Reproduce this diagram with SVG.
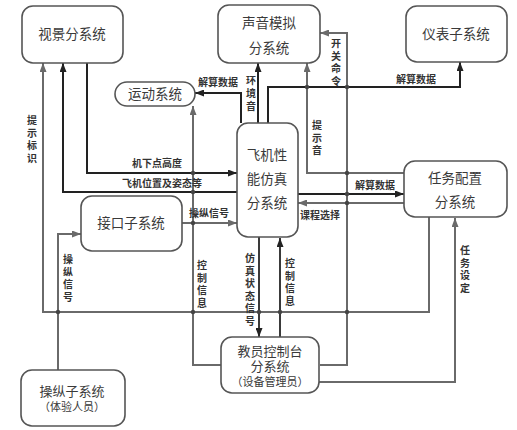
<svg xmlns="http://www.w3.org/2000/svg" width="517" height="430" viewBox="0 0 517 430">
<style>
.node rect{fill:#fff;stroke:#555;stroke-width:1.6}
.nt{font-family:"Liberation Sans","Noto Sans CJK SC",sans-serif;font-size:13.5px;fill:#3a3a3a;text-anchor:middle;dominant-baseline:central}
.nm{font-size:13px}
.ns{font-size:11px}
.lb{font-family:"Liberation Sans","Noto Sans CJK SC",sans-serif;font-size:10px;font-weight:bold;fill:#333;text-anchor:middle;dominant-baseline:central}
.k{fill:none;stroke:#222;stroke-width:2}
.d{fill:none;stroke:#3a3a3a;stroke-width:2}
.g{fill:none;stroke:#6a6a6a;stroke-width:2}
.ak{marker-end:url(#mk)}
.ag{marker-end:url(#mg)}
.dot{fill:#444}
</style>
<defs>
<marker id="mk" viewBox="0 0 9 7" refX="9" refY="3.5" markerWidth="9" markerHeight="7" markerUnits="userSpaceOnUse" orient="auto"><path d="M0,0 L9,3.5 L0,7 z" fill="#222"/></marker>
<marker id="mg" viewBox="0 0 9 7" refX="9" refY="3.5" markerWidth="9" markerHeight="7" markerUnits="userSpaceOnUse" orient="auto"><path d="M0,0 L9,3.5 L0,7 z" fill="#6a6a6a"/></marker>
</defs>
<rect width="517" height="430" fill="#fff"/>
<g id="connectors">
<path class="k ak" d="M87,63 V173 H237"/>
<path class="k ak" d="M237,192 H63 V63"/>
<path class="k ak" d="M241,123 V93 H195"/>
<path class="k ak" d="M258,123 V63"/>
<path class="k ak" d="M268,123 V87 H460 V62"/>
<path class="k ak" d="M298,194 H404"/>
<path class="d ak" d="M259,237 V337"/>
<path class="d ak" d="M280,337 V238"/>
<path class="g ag" d="M429,217 V312 H43 V63"/>
<path class="g ag" d="M58,370 V234 H81"/>
<path class="g ag" d="M182,223 H237"/>
<path class="g ag" d="M221,365 H193 V106"/>
<path class="g ag" d="M405,173 H307 V63"/>
<path class="g ag" d="M320,365 H347 V33 H320"/>
<path class="g ag" d="M404,203 H298"/>
<path class="g ag" d="M319,382 H455 V218"/>
<g>
<circle class="dot" cx="58" cy="312" r="2.2"/>
<circle class="dot" cx="193" cy="312" r="2.2"/>
<circle class="dot" cx="259" cy="312" r="2.2"/>
<circle class="dot" cx="280" cy="312" r="2.2"/>
<circle class="dot" cx="347" cy="312" r="2.2"/>
<circle class="dot" cx="193" cy="173" r="2.2"/>
<circle class="dot" cx="193" cy="192" r="2.2"/>
<circle class="dot" cx="193" cy="223" r="2.2"/>
<circle class="dot" cx="307" cy="87" r="2.2"/>
<circle class="dot" cx="347" cy="87" r="2.2"/>
<circle class="dot" cx="347" cy="173" r="2.2"/>
<circle class="dot" cx="347" cy="194" r="2.2"/>
<circle class="dot" cx="347" cy="203" r="2.2"/>
</g>
<g>
<text class="lb" x="157" y="163">机下点高度</text>
<text class="lb" x="162" y="183">飞机位置及姿态等</text>
<text class="lb" x="209" y="213">操纵信号</text>
<text class="lb" x="218" y="82">解算数据</text>
<text class="lb" x="416" y="79">解算数据</text>
<text class="lb" x="375" y="185">解算数据</text>
<text class="lb" x="320" y="215">课程选择</text>
<text class="lb"><tspan x="32" y="120">提</tspan><tspan x="32" y="132.5">示</tspan><tspan x="32" y="145">标</tspan><tspan x="32" y="157.5">识</tspan></text>
<text class="lb"><tspan x="336" y="43">开</tspan><tspan x="336" y="55.5">关</tspan><tspan x="336" y="68">命</tspan><tspan x="336" y="80.5">令</tspan></text>
<text class="lb"><tspan x="251" y="80">环</tspan><tspan x="251" y="93">境</tspan><tspan x="251" y="106">音</tspan></text>
<text class="lb"><tspan x="317" y="125">提</tspan><tspan x="317" y="137.5">示</tspan><tspan x="317" y="150">音</tspan></text>
<text class="lb"><tspan x="68" y="259">操</tspan><tspan x="68" y="271.5">纵</tspan><tspan x="68" y="284">信</tspan><tspan x="68" y="296.5">号</tspan></text>
<text class="lb"><tspan x="202" y="265">控</tspan><tspan x="202" y="277.5">制</tspan><tspan x="202" y="290">信</tspan><tspan x="202" y="302.5">息</tspan></text>
<text class="lb"><tspan x="250" y="258">仿</tspan><tspan x="250" y="270.5">真</tspan><tspan x="250" y="283">状</tspan><tspan x="250" y="295.5">态</tspan><tspan x="250" y="308">信</tspan><tspan x="250" y="320.5">号</tspan></text>
<text class="lb"><tspan x="290" y="263">控</tspan><tspan x="290" y="275.5">制</tspan><tspan x="290" y="288">信</tspan><tspan x="290" y="300.5">息</tspan></text>
<text class="lb"><tspan x="465" y="250">任</tspan><tspan x="465" y="262.5">务</tspan><tspan x="465" y="275">设</tspan><tspan x="465" y="287.5">定</tspan></text>
</g>
</g>
<g id="n-shijing" class="node"><rect x="22" y="6" width="101" height="57" rx="11"/><text class="nt" x="72" y="34">视景分系统</text></g>
<g id="n-shengyin" class="node"><rect x="218" y="5" width="102" height="58" rx="11"/><text class="nt"><tspan x="269" y="23">声音模拟</tspan><tspan x="269" y="48">分系统</tspan></text></g>
<g id="n-yibiao" class="node"><rect x="406" y="6" width="101" height="56" rx="11"/><text class="nt" x="456" y="34">仪表子系统</text></g>
<g id="n-yundong" class="node"><rect x="115" y="82" width="80" height="24" rx="12"/><text class="nt" x="155" y="94">运动系统</text></g>
<g id="n-feiji" class="node"><rect x="237" y="123" width="61" height="114" rx="11"/><text class="nt"><tspan x="267" y="155">飞机性</tspan><tspan x="267" y="179">能仿真</tspan><tspan x="267" y="203">分系统</tspan></text></g>
<g id="n-renwu" class="node"><rect x="404" y="161" width="103" height="56" rx="11"/><text class="nt"><tspan x="455" y="178">任务配置</tspan><tspan x="455" y="202">分系统</tspan></text></g>
<g id="n-jiekou" class="node"><rect x="81" y="196" width="101" height="55" rx="11"/><text class="nt" x="131" y="223">接口子系统</text></g>
<g id="n-jiaoyuan" class="node"><rect x="221" y="337" width="98" height="56" rx="11"/><text class="nt nm"><tspan x="270" y="351">教员控制台</tspan><tspan x="270" y="366">分系统</tspan><tspan class="ns" x="270" y="382">（设备管理员）</tspan></text></g>
<g id="n-caozong" class="node"><rect x="21" y="370" width="104" height="56" rx="11"/><text class="nt nm"><tspan x="72" y="391">操纵子系统</tspan><tspan class="ns" x="72" y="407">（体验人员）</tspan></text></g>
</svg>
